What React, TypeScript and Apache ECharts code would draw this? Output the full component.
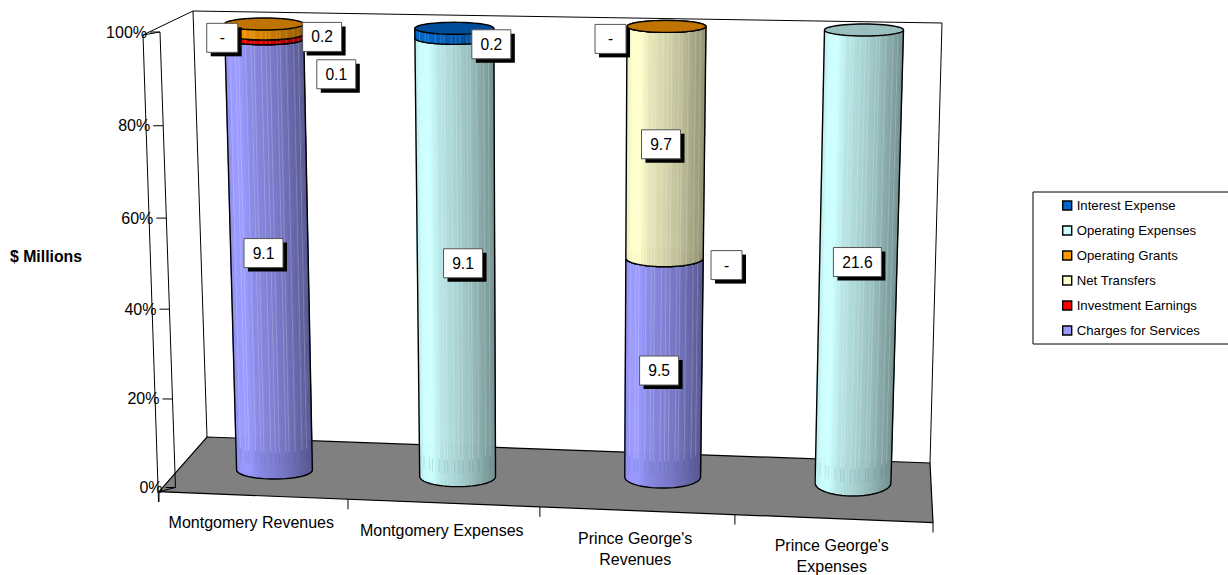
import React, { useEffect, useRef } from "react";
import * as echarts from "echarts";

const W = 1228;
const H = 575;
const FONT = '"Liberation Sans", Arial, sans-serif';

// $ millions, one slot per column; null means the series has no segment there
const categories = ["Montgomery Revenues", "Montgomery Expenses", "Prince George's\nRevenues", "Prince George's\nExpenses"];
const chargesForServices = [9.1, null, 9.5, null];
const investmentEarnings = [0.1, null, 0, null];
const netTransfers = [0, null, 9.7, null];
const operatingGrants = [0.2, null, 0, null];
const operatingExpenses = [null, 9.1, null, 21.6];
const interestExpense = [null, 0.2, null, null];
const yTicks = [0, 20, 40, 60, 80, 100];

type Pt = [number, number];

const stackOrder = [
  { name: "Charges for Services", color: [0x99, 0x99, 0xff], values: chargesForServices },
  { name: "Investment Earnings", color: [0xff, 0x00, 0x00], values: investmentEarnings },
  { name: "Net Transfers", color: [0xff, 0xff, 0xcc], values: netTransfers },
  { name: "Operating Grants", color: [0xff, 0x99, 0x00], values: operatingGrants },
  { name: "Operating Expenses", color: [0xcc, 0xff, 0xff], values: operatingExpenses },
  { name: "Interest Expense", color: [0x00, 0x66, 0xcc], values: interestExpense },
];
const legendOrder = ["Interest Expense", "Operating Expenses", "Operating Grants", "Net Transfers", "Investment Earnings", "Charges for Services"];

// Where each value box sits relative to the middle of its segment, in pixels
const labelNudges: Record<string, (Pt | null)[]> = {
  "Charges for Services": [[-6, -5], null, [-4.5, 2], null],
  "Investment Earnings": [[72, 38], null, [62, 7], null],
  "Net Transfers": [[-42, 4], null, [-4.5, 1], null],
  "Operating Grants": [[58, 8], null, [-56, 12.5], null],
  "Operating Expenses": [null, [7, 2], null, [-1, 1.5]],
  "Interest Expense": [null, [37, 11], null, null],
};

// Projection of the 3D scene onto the page
const K = 0.965;
const barBottom: [Pt, Pt] = [[274.5, 470], [853, 483]];
const barTop: [Pt, Pt] = [[264, 24], [864, 30]];
const columnShift: Pt[] = [[0, 0], [-9.7, 2.3], [2.5, -1.6], [0, 0]];
const baseRy = [9, 10, 11, 13];
const axisLine: [Pt, Pt] = [[175.5, 487.5], [160, 32]];
const frontEdge: [Pt, Pt] = [[159, 491.7], [933, 522.5]];

const lerp = (a: number, b: number, t: number) => a + (b - a) * t;
const mix = (a: Pt, b: Pt, t: number): Pt => [lerp(a[0], b[0], t), lerp(a[1], b[1], t)];
const persp = (a: Pt, b: Pt, k: number, t: number): Pt => mix(a, b, (t * k) / (1 - t + t * k));

const valueFrac = (api: any, v: number) => 1 - api.coord([0, v])[1] / H;
const slotFrac = (api: any, c: number) => (api.coord([c, 0])[0] / W - 0.125) / 0.75;

function barSection(api: any, c: number, v: number) {
  const t = valueFrac(api, v);
  const u = slotFrac(api, c);
  const p = persp(mix(barBottom[0], barBottom[1], u), mix(barTop[0], barTop[1], u), K, t);
  return {
    cx: p[0] + columnShift[c][0],
    cy: p[1] + columnShift[c][1],
    r: lerp(37.9, 39.5, t),
    ry: lerp(baseRy[c], 6, t),
  };
}

type Sec = ReturnType<typeof barSection>;
const rim = (s: Sec, theta: number): Pt => [s.cx + s.r * Math.cos(theta), s.cy + s.ry * Math.sin(theta)];

// Light falls from the left: the side turns darker in bands towards the right
const shadeStops: Pt[] = [[0, 0.92], [0.08, 1], [0.18, 1], [0.3, 0.9], [0.5, 0.83], [0.7, 0.74], [0.85, 0.65], [1, 0.57]];
function shadeAt(s: number) {
  for (let i = 1; i < shadeStops.length; i++) {
    if (s <= shadeStops[i][0]) {
      const [a, b] = [shadeStops[i - 1], shadeStops[i]];
      return lerp(a[1], b[1], (s - a[0]) / (b[0] - a[0]));
    }
  }
  return 0.57;
}
const tint = (c: number[], f: number) => `rgb(${c.map((x) => Math.round(x * f)).join(",")})`;
const streaks = [0.06, 0.13, 0.17, 0.26, 0.33, 0.37, 0.46, 0.52, 0.57, 0.66, 0.7, 0.78, 0.87, 0.93];
const STRIPS = 40;
const streakFloor = 6;

function cylinderItem(color: number[]) {
  return (_: any, api: any) => {
    const c = api.value(0);
    const from = api.value(1);
    const to = api.value(2);
    const lo = barSection(api, c, from);
    const hi = barSection(api, c, to);
    const children: any[] = [];
    if (to > from) {
      for (let i = 0; i < STRIPS; i++) {
        const a = Math.PI - (Math.PI * i) / STRIPS;
        const b = Math.PI - (Math.PI * (i + 1)) / STRIPS;
        const s = (Math.cos((a + b) / 2) + 1) / 2;
        const fill = tint(color, shadeAt(s));
        children.push({
          type: "polygon",
          silent: true,
          shape: { points: [rim(hi, a), rim(hi, b), rim(lo, b), rim(lo, a)] },
          style: { fill, stroke: fill, lineWidth: 0.7 },
        });
      }
      const streakLo = barSection(api, c, Math.max(from, streakFloor));
      if (to > streakFloor) {
        streaks.forEach((s) => {
          const th = Math.acos(2 * s - 1);
          children.push({
            type: "line",
            silent: true,
            shape: { x1: rim(hi, th)[0], y1: rim(hi, th)[1], x2: rim(streakLo, th)[0], y2: rim(streakLo, th)[1] },
            style: { stroke: "rgba(255,255,255,0.2)", lineWidth: 1 },
          });
        });
      }
      if (from < streakFloor) {
        const streakHi = barSection(api, c, Math.min(to, streakFloor));
        const streakEnd = barSection(api, c, streakFloor - 3);
        streaks.forEach((s) => {
          const th = Math.acos(2 * s - 1);
          children.push({
            type: "line",
            silent: true,
            shape: { x1: rim(streakHi, th)[0], y1: rim(streakHi, th)[1], x2: rim(streakEnd, th)[0], y2: rim(streakEnd, th)[1] },
            style: { stroke: "rgba(60,80,90,0.14)", lineWidth: 1 },
          });
        });
      }
    }
    // Outline: down the left side, along the front rim, up the right side
    const arc: Pt[] = [];
    for (let i = 0; i <= 32; i++) arc.push(rim(lo, Math.PI - (Math.PI * i) / 32));
    children.push({
      type: "polyline",
      silent: true,
      shape: { points: [rim(hi, Math.PI), ...arc, rim(hi, 0)] },
      style: { fill: "none", stroke: "#000", lineWidth: 1.4 },
    });
    // Cap, in a darker tone of the same colour
    const cap: Pt[] = [];
    for (let i = 0; i < 48; i++) cap.push(rim(hi, (i / 48) * Math.PI * 2));
    children.push({
      type: "polygon",
      silent: true,
      shape: { points: cap },
      style: { fill: tint(color, 0.75), stroke: "#000", lineWidth: 1.4 },
    });
    return { type: "group", children };
  };
}

function frameItem(_: any, api: any) {
  const line = (a: Pt, b: Pt, w = 1) => ({
    type: "line",
    silent: true,
    shape: { x1: a[0], y1: a[1], x2: b[0], y2: b[1] },
    style: { stroke: "#000", lineWidth: w },
  });
  const text = (x: number, y: number, t: string, align: string, font: string) => ({
    type: "text",
    silent: true,
    style: { x, y, text: t, align, verticalAlign: "middle", font, fill: "#000" },
  });
  const children: any[] = [
    {
      type: "polygon",
      silent: true,
      shape: { points: [[159, 491.7], [207, 437], [930, 463], [933, 522.5]] },
      style: { fill: "#808080", stroke: "#000", lineWidth: 1.2 },
    },
    line([193, 11], [942, 23]),
    line([942, 23], [930, 463]),
    line([193, 11], [207, 437]),
    line([143, 35], [193, 11]),
    line([143, 35], [160, 32]),
    line([143, 35], [158.5, 502]),
    line(axisLine[1], axisLine[0]),
    line(axisLine[0], frontEdge[0]),
  ];
  yTicks.forEach((v) => {
    const p = persp(axisLine[0], axisLine[1], K, valueFrac(api, v));
    children.push(line([p[0] - 10, p[1]], p));
    children.push(text(p[0] - 13, p[1], `${v}%`, "right", `16px ${FONT}`));
  });
  const n = categories.length;
  for (let i = 0; i <= n; i++) {
    const p = persp(frontEdge[0], frontEdge[1], 0.969, i / n);
    children.push(line([p[0], p[1]], [p[0], p[1] + 10]));
  }
  categories.forEach((name, i) => {
    const f = (slotFrac(api, i) * 0.75 + 0.125) * n;
    const p = persp(frontEdge[0], frontEdge[1], 0.969, f / n);
    name.split("\n").forEach((row, r) => {
      children.push(text(p[0] - 1.8, p[1] + 27.4 + r * 21, row, "center", `16px ${FONT}`));
    });
  });
  children.push({
    type: "text",
    silent: true,
    style: { x: 82, y: 256.5, text: "$ Millions", align: "right", verticalAlign: "middle", font: `bold 15.8px ${FONT}`, fill: "#000" },
  });
  return { type: "group", children };
}

function labelItem(_: any, api: any) {
  const c = api.value(0);
  const v = api.value(1);
  const text = api.value(2) === 0 ? "-" : Number(api.value(2)).toFixed(1);
  const nudge = labelRows[api.value(3)].nudge;
  const s = barSection(api, c, v);
  const x = s.cx + nudge[0];
  const y = s.cy + nudge[1];
  const w = Math.max(31, 12 + 9 * text.length);
  const h = 29;
  return {
    type: "group",
    children: [
      { type: "rect", silent: true, shape: { x: x - w / 2 + 4, y: y - h / 2 + 4, width: w, height: h }, style: { fill: "#000" } },
      { type: "rect", silent: true, shape: { x: x - w / 2, y: y - h / 2, width: w, height: h }, style: { fill: "#fff", stroke: "#555", lineWidth: 1 } },
      { type: "text", silent: true, style: { x, y, text, align: "center", verticalAlign: "middle", font: `15.6px ${FONT}`, fill: "#000" } },
    ],
  };
}

// One row per value box: column, value position, the value itself, index
const labelRows: { row: number[]; nudge: Pt }[] = [];
const segmentRows: Record<string, number[][]> = {};
categories.forEach((_, c) => {
  const total = stackOrder.reduce((sum, s) => sum + (s.values[c] ?? 0), 0);
  let run = 0;
  stackOrder.forEach((s) => {
    const val = s.values[c];
    if (val === null) return;
    const from = (run / total) * 100;
    run += val;
    const to = (run / total) * 100;
    (segmentRows[s.name] ||= []).push([c, from, to]);
    labelRows.push({ row: [c, (from + to) / 2, val, labelRows.length], nudge: labelNudges[s.name][c] as Pt });
  });
});

export default function App() {
  const ref = useRef<HTMLDivElement>(null);
  useEffect(() => {
    const chart = echarts.init(ref.current!, undefined, { renderer: "svg" });
    chart.setOption({
      animation: false,
      backgroundColor: "#fff",
      grid: { left: 0, right: 0, top: 0, bottom: 0 },
      xAxis: { type: "category", data: categories, show: false },
      yAxis: { type: "value", min: 0, max: 100, interval: 20, show: false },
      legend: {
        orient: "vertical",
        left: 1033,
        top: 192,
        padding: [7, 31, 7, 29],
        borderColor: "#000",
        borderWidth: 1,
        itemWidth: 9,
        itemHeight: 9,
        itemGap: 12,
        selectedMode: false,
        textStyle: { fontFamily: FONT, fontSize: 13.2, color: "#000", padding: 0 },
        data: legendOrder.map((name) => {
          const s = stackOrder.find((e) => e.name === name)!;
          return {
            name,
            icon: "rect",
            itemStyle: { color: `rgb(${s.color.join(",")})`, borderColor: "#000", borderWidth: 1.4 },
          };
        }),
      },
      series: [
        {
          type: "custom",
          name: "frame",
          z: 1,
          silent: true,
          clip: false,
          renderItem: frameItem,
          data: [[0, 0]],
          encode: { x: 0, y: 1 },
        },
        ...stackOrder.map((s) => ({
          type: "custom",
          name: s.name,
          z: 2,
          silent: true,
          clip: false,
          itemStyle: { color: `rgb(${s.color.join(",")})` },
          renderItem: cylinderItem(s.color),
          data: segmentRows[s.name],
          encode: { x: 0, y: [1, 2] },
        })),
        {
          type: "custom",
          name: "values",
          z: 3,
          silent: true,
          clip: false,
          renderItem: labelItem,
          data: labelRows.map((l) => l.row),
          encode: { x: 0, y: 1 },
        },
      ],
    });
    return () => chart.dispose();
  }, []);
  return <div ref={ref} style={{ position: "fixed", left: 0, top: 0, width: W, height: H }} />;
}
